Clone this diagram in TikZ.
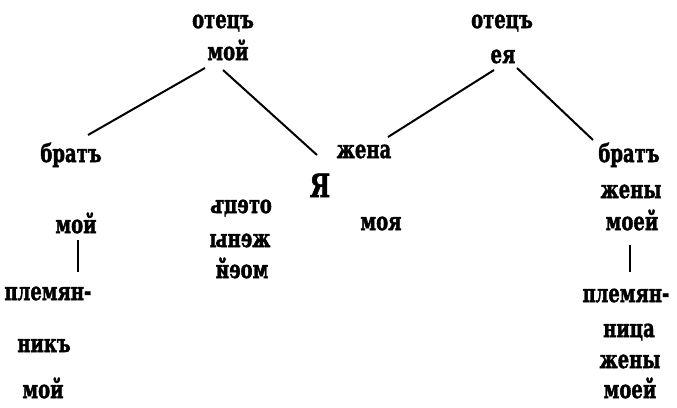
\documentclass[tikz,border=0pt]{standalone}
\usepackage{fontspec}
\setmainfont{DejaVu Serif}[BoldFeatures={FakeBold=2}]
\newcommand{\narrow}[1]{\scalebox{0.72}[1]{#1}}
\newcommand{\mirrored}[1]{\scalebox{-0.72}[1]{#1}}
\tikzset{word/.style={font=\fontsize{25}{25}\selectfont\bfseries, inner sep=0pt, anchor=base}}

\begin{document}
\begin{tikzpicture}[%
x=1pt, y=-1pt,
]
\useasboundingbox (0,0) rectangle (677,407);
%% label;
\node[word] (otec1) at (223,28) {\narrow{отецъ}};
\node[word] (moj1) at (228,60) {\narrow{мой}};
%% label;
\node[word] (otec2) at (502,28) {\narrow{отецъ}};
\node[word] (eja) at (503,63) {\narrow{ея}};
%% label;
\node[word] (brat1) at (71,162) {\narrow{братъ}};
\node[word] (moj2) at (76,233) {\narrow{мой}};
\node[word] (plem1) at (48,300) {\narrow{племян-}};
\node[word] (nik) at (44,352) {\narrow{никъ}};
\node[word] (moj3) at (43,398) {\narrow{мой}};
%% label;
\node[word] (zhena) at (364,158) {\narrow{жена}};
\node[word, font=\fontsize{32}{32}\selectfont\bfseries] (ya) at (320,197) {\narrow{Я}};
\node[word] (moja) at (381,230) {\narrow{моя}};
%% label;
\node[word] (otec3) at (241,213) {\mirrored{отецъ}};
\node[word] (zheny1) at (240,247) {\mirrored{жены}};
\node[word] (moej1) at (242,278) {\mirrored{моей}};
%% label;
\node[word] (brat2) at (629,162) {\narrow{братъ}};
\node[word] (zheny2) at (631,198) {\narrow{жены}};
\node[word] (moej2) at (632,230) {\narrow{моей}};
\node[word] (plem2) at (626,302) {\narrow{племян-}};
\node[word] (nica) at (629,337) {\narrow{ница}};
\node[word] (zheny3) at (630,368) {\narrow{жены}};
\node[word] (moej3) at (630,398) {\narrow{моей}};
%% line;
\draw[line width=2pt] ([shift={(-23,8)}]moj1.base) -- ([shift={(17,-27)}]brat1.base);
\draw[line width=2pt] ([shift={(-5,10)}]moj1.base) -- ([shift={(-3,-42)}]ya.base);
%% line;
\draw[line width=2pt] ([shift={(-9,7)}]eja.base) -- ([shift={(24,-21)}]zhena.base);
\draw[line width=2pt] ([shift={(14,5)}]eja.base) -- ([shift={(-36,-22)}]brat2.base);
%% line;
\draw[line width=2pt] ([shift={(2,7)}]moj2.base) -- ([shift={(30,-28)}]plem1.base);
\draw[line width=2pt] ([shift={(-2,15)}]moej2.base) -- ([shift={(4,-30)}]plem2.base);
\end{tikzpicture}
\end{document}
